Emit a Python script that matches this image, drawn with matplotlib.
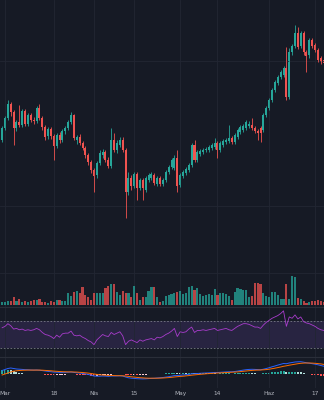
import numpy as np
import matplotlib
matplotlib.use("Agg")
import matplotlib.pyplot as plt

# daily candles, price in arbitrary units
opens = [260, 272, 282, 296, 288, 272, 278, 275, 289, 276,
         285, 280, 279, 292, 282, 273, 264, 271, 264, 254,
         265, 260, 269, 272, 278, 285, 260, 263, 257, 252,
         245, 238, 230, 225, 237, 245, 248, 240, 234, 260,
         250, 255, 260, 250, 208, 222, 214, 226, 212, 220,
         210, 220, 222, 225, 216, 222, 216, 220, 228, 233,
         232, 242, 215, 224, 227, 230, 235, 255, 240, 246,
         248, 250, 250, 252, 253, 257, 250, 255, 258, 259,
         262, 258, 263, 268, 270, 272, 274, 275, 272, 269,
         272, 270, 285, 292, 300, 310, 317, 323, 325, 332,
         303, 348, 354, 367, 354, 367, 348, 345, 360, 355,
         350, 342, 340]
closes = [272, 282, 296, 288, 272, 278, 275, 289, 276, 285,
          280, 279, 292, 282, 273, 263, 271, 264, 254, 265,
          260, 269, 272, 278, 285, 262, 263, 257, 252, 245,
          238, 230, 224, 237, 247, 248, 240, 234, 260, 250,
          257, 260, 250, 208, 222, 214, 226, 212, 220, 212,
          222, 225, 226, 217, 222, 216, 220, 228, 233, 240,
          242, 214, 225, 228, 231, 235, 255, 240, 248, 249,
          250, 251, 253, 255, 257, 250, 257, 259, 260, 262,
          258, 265, 270, 273, 274, 278, 276, 272, 269, 267,
          267, 285, 292, 300, 310, 318, 323, 328, 332, 303,
          348, 354, 367, 353, 367, 348, 344, 360, 354, 350,
          340, 338, 337]
highs = [274, 284, 300, 298, 290, 280, 295, 291, 291, 287,
         287, 283, 294, 296, 284, 275, 273, 273, 266, 267,
         268, 271, 274, 280, 288, 286, 265, 266, 259, 254,
         247, 240, 232, 239, 250, 251, 250, 243, 272, 267,
         260, 263, 263, 252, 228, 225, 228, 228, 222, 222,
         224, 227, 228, 227, 224, 224, 222, 230, 235, 242,
         245, 250, 227, 230, 233, 237, 257, 260, 250, 251,
         252, 253, 255, 257, 262, 259, 259, 261, 262, 275,
         264, 267, 272, 275, 276, 280, 279, 282, 274, 271,
         274, 287, 294, 302, 312, 320, 325, 330, 334, 353,
         352, 356, 375, 373, 369, 369, 350, 362, 362, 357,
         352, 344, 342]
lows = [258, 270, 280, 284, 255, 269, 273, 273, 274, 274,
        278, 276, 277, 280, 270, 260, 261, 261, 240, 252,
        257, 258, 266, 270, 276, 260, 256, 255, 250, 242,
        235, 227, 208, 222, 235, 242, 238, 232, 232, 248,
        247, 253, 248, 182, 205, 210, 212, 200, 210, 200,
        208, 218, 220, 215, 214, 214, 214, 218, 226, 231,
        230, 208, 213, 222, 225, 228, 233, 238, 238, 244,
        246, 248, 248, 250, 251, 242, 248, 253, 256, 257,
        256, 256, 261, 266, 268, 270, 272, 270, 267, 260,
        258, 268, 283, 290, 298, 308, 315, 321, 323, 300,
        301, 345, 352, 351, 352, 345, 328, 342, 352, 348,
        338, 336, 334]
volumes = [3, 3, 4, 4, 8, 4, 6, 3, 4, 3,
           4, 5, 5, 6, 3, 3, 2, 4, 3, 5,
           5, 4, 4, 12, 9, 13, 14, 12, 18, 10,
           8, 5, 12, 12, 12, 12, 17, 19, 21, 21,
           13, 10, 14, 12, 12, 8, 19, 12, 5, 8,
           8, 14, 18, 18, 8, 3, 4, 9, 10, 11,
           12, 13, 14, 11, 12, 18, 19, 15, 17, 11,
           9, 10, 11, 10, 16, 10, 12, 12, 11, 9,
           5, 13, 17, 16, 15, 15, 8, 9, 22, 22,
           21, 12, 9, 8, 13, 13, 10, 6, 6, 21,
           6, 29, 28, 7, 6, 4, 2, 3, 4, 4,
           5, 4, 3]
rsi = [60, 62, 66, 63, 58, 59, 57, 58, 56, 57,
       56, 57, 59, 57, 53, 50, 49, 47, 44, 49,
       46, 51, 52, 52, 55, 49, 48, 49, 46, 44,
       41, 39, 35, 42, 46, 50, 48, 47, 53, 50,
       52, 54, 48, 35, 40, 42, 40, 38, 42, 40,
       42, 43, 44, 42, 46, 45, 47, 50, 52, 55,
       59, 47, 54, 53, 54, 58, 61, 53, 56, 56,
       57, 56, 57, 58, 59, 56, 57, 58, 59, 57,
       56, 59, 62, 64, 66, 66, 65, 63, 61, 61,
       59, 64, 68, 71, 74, 76, 78, 81, 85, 62,
       76, 74, 79, 73, 76, 69, 67, 66, 64, 62,
       59, 57, 56]
macd = [3.5, 4.5, 5.5, 6, 5.5, 5, 4.8, 4.6, 4.3, 4.2,
        4, 3.9, 4, 3.8, 3.4, 3, 2.6, 2.3, 1.9, 1.8,
        1.6, 1.6, 1.7, 1.8, 2, 1.6, 1.2, 1, 0.6, 0.1,
        -0.5, -1.2, -2, -2.2, -2.2, -2, -2.1, -2.3, -2, -2,
        -1.9, -1.8, -2, -3, -3.8, -4.2, -4.4, -4.7, -4.8, -4.9,
        -4.8, -4.6, -4.4, -4.3, -4, -3.8, -3.5, -3.1, -2.7, -2.2,
        -1.6, -1.6, -1.3, -1, -0.7, -0.4, 0.2, 0.3, 0.5, 0.7,
        0.9, 1, 1.1, 1.3, 1.5, 1.5, 1.7, 1.9, 2.1, 2.2,
        2.2, 2.5, 2.9, 3.4, 3.9, 4.3, 4.6, 4.7, 4.6, 4.4,
        4.2, 4.8, 5.5, 6.3, 7.2, 8, 8.9, 9.7, 10.5, 10.3,
        11, 11.5, 12, 12.2, 12.3, 11.8, 11.2, 10.8, 10.3, 9.8,
        9.2, 8.5, 7.8]
signal = [-1, 0, 1, 2, 2.8, 3.2, 3.5, 3.7, 3.8, 3.9,
          3.9, 3.9, 3.9, 3.9, 3.8, 3.6, 3.4, 3.2, 2.9, 2.7,
          2.5, 2.3, 2.2, 2.1, 2.1, 2, 1.9, 1.7, 1.5, 1.2,
          0.9, 0.5, 0, -0.4, -0.8, -1, -1.2, -1.4, -1.5, -1.6,
          -1.7, -1.7, -1.8, -2, -2.4, -2.8, -3.1, -3.4, -3.7, -3.9,
          -4.1, -4.2, -4.2, -4.2, -4.2, -4.1, -4, -3.8, -3.6, -3.3,
          -3, -2.7, -2.4, -2.2, -1.9, -1.6, -1.2, -0.9, -0.6, -0.3,
          -0.1, 0.2, 0.4, 0.6, 0.8, 1, 1.1, 1.3, 1.5, 1.6,
          1.8, 1.9, 2.1, 2.4, 2.7, 3, 3.3, 3.6, 3.8, 3.9,
          4, 4.2, 4.4, 4.8, 5.3, 5.8, 6.4, 7, 7.7, 8.2,
          8.8, 9.3, 9.8, 10.3, 10.7, 10.9, 11, 11, 10.9, 10.7,
          10.4, 10.1, 9.6]
tick_pos = [1, 18, 32, 46, 62, 75, 93, 109]
tick_labels = ["Mar", "18", "Nis", "15", "May", "14", "Haz", "17"]

BG = "#161a25"
GRID = "#222633"
UP = "#26a69a"
DOWN = "#ef5350"

x = np.arange(len(closes))
o = np.array(opens, float)
c = np.array(closes, float)
up = c >= o
col = np.where(up, UP, DOWN)

fig = plt.figure(figsize=(3.24, 4.0), dpi=100, facecolor=BG)
ax = fig.add_axes([0, 0.2325, 1, 0.7675])
axv = fig.add_axes([0, 0.2375, 1, 0.0875])
axr = fig.add_axes([0, 0.1075, 1, 0.125])
axm = fig.add_axes([0, 0.03, 1, 0.0775])

xlim = (-0.74, 112.1)
for a in (ax, axv, axr, axm):
    a.set_xlim(*xlim)
    a.set_xticks(tick_pos)
    a.tick_params(length=0, labelbottom=False, labelleft=False)
    for s in a.spines.values():
        s.set_visible(False)
axv.set_facecolor("none")
for a in (ax, axr, axm):
    a.set_facecolor(BG)
    a.grid(True, axis="x", color=GRID, lw=0.6)

# price pane
ax.set_ylim(93, 400)
ax.set_yticks([127, 194, 339])
ax.grid(True, axis="y", color=GRID, lw=0.6)
ax.vlines(x, lows, highs, colors=col, lw=0.6)
ax.bar(x, np.maximum(np.abs(c - o), 0.6), bottom=np.minimum(o, c), width=0.7, color=col, lw=0)

# volume
axv.set_ylim(0, 35)
axv.set_yticks([])
axv.set_xticks([])
axv.bar(x, volumes, width=0.75, color=col, alpha=0.75, lw=0)

# RSI
axr.set_ylim(16.7, 90.7)
axr.set_yticks([])
axr.axhspan(30, 70, color="#7e57c2", alpha=0.18, lw=0)
for lvl in (30, 70):
    axr.axhline(lvl, color="#787b86", lw=0.6, ls=(0, (2, 2)))
axr.plot(x, rsi, color="#a83ccc", lw=0.6)
axr.spines["top"].set_visible(True)
axr.spines["top"].set_color("#2a2e39")

# MACD
axm.set_ylim(-14, 17)
axm.set_yticks([])
m = np.array(macd)
sg = np.array(signal)
hist = m - sg
hcol = []
for i, h in enumerate(hist):
    prev = hist[i - 1] if i > 0 else h
    if h >= 0:
        hcol.append("#26a69a" if h >= prev else "#b2dfdb")
    else:
        hcol.append("#ff5252" if h <= prev else "#ffcdd2")
axm.bar(x, hist, width=0.7, color=hcol, lw=0)
axm.plot(x, m, color="#2962ff", lw=0.7)
axm.plot(x, sg, color="#ff6d00", lw=0.7)
axm.spines["top"].set_visible(True)
axm.spines["top"].set_color("#2a2e39")
axm.tick_params(labelbottom=True, labelsize=4.2, labelcolor="#b2b5be", pad=2.5)
axm.set_xticklabels(tick_labels)

fig.savefig("out.png", dpi=100, facecolor=BG)
